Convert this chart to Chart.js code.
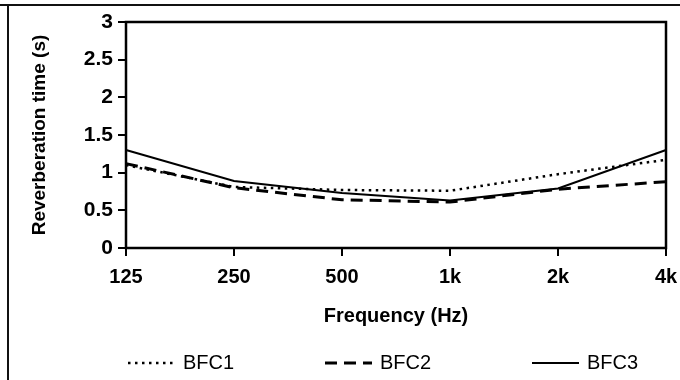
<!DOCTYPE html>
<html>
<head>
<meta charset="utf-8">
<script src="https://cdn.jsdelivr.net/npm/chart.js@4"></script>
<style>
    html, body { margin: 0; padding: 0; background: #fff; }
    #wrap { width: 680px; height: 380px; }
</style>
</head>
<body>
<div id="wrap"><canvas id="chartCanvas" width="680" height="380"></canvas></div>
<script>
// Données
const frequences = ['125', '250', '500', '1k', '2k', '4k'];
const bfc1 = [1.10, 0.81, 0.77, 0.76, 0.98, 1.17];
const bfc2 = [1.12, 0.80, 0.64, 0.61, 0.78, 0.88];
const bfc3 = [1.30, 0.89, 0.73, 0.63, 0.79, 1.30];
const yTicks = [0, 0.5, 1, 1.5, 2, 2.5, 3];

const police = '"Liberation Sans", Arial, sans-serif';

// Cadre extérieur + cadre de la zone de tracé
const cadrePlugin = {
    id: 'cadre',
    beforeDraw(chart) {
        const ctx = chart.ctx;
        ctx.save();
        ctx.fillStyle = '#fff';
        ctx.fillRect(0, 0, chart.width, chart.height);
        ctx.strokeStyle = '#111';
        ctx.lineWidth = 2;
        ctx.beginPath();
        ctx.moveTo(0, 5);
        ctx.lineTo(chart.width, 5);
        ctx.moveTo(8, 5);
        ctx.lineTo(8, chart.height);
        ctx.stroke();
        ctx.restore();
    },
    afterDatasetsDraw(chart) {
        const a = chart.chartArea;
        const ctx = chart.ctx;
        ctx.save();
        ctx.strokeStyle = '#000';
        ctx.lineWidth = 2.5;
        ctx.strokeRect(a.left, a.top, a.right - a.left, a.bottom - a.top);
        ctx.restore();
    }
};

// Légende dessinée à la main (items très espacés)
const legendePlugin = {
    id: 'legende',
    afterDraw(chart) {
        const ctx = chart.ctx;
        const debuts = [128, 325, 532];
        const y = 363;
        ctx.save();
        chart.data.datasets.forEach((ds, i) => {
            const x = debuts[i];
            ctx.strokeStyle = ds.borderColor;
            ctx.lineWidth = ds.borderWidth;
            ctx.setLineDash(ds.borderDash || []);
            ctx.beginPath();
            ctx.moveTo(x, y);
            ctx.lineTo(x + 47, y);
            ctx.stroke();
            ctx.setLineDash([]);
            ctx.fillStyle = '#000';
            ctx.font = '20px ' + police;
            ctx.textBaseline = 'middle';
            ctx.fillText(ds.label, x + 55, y);
        });
        ctx.restore();
    }
};

const ctx = document.getElementById('chartCanvas').getContext('2d');
const chart = new Chart(ctx, {
    type: 'line',
    data: {
        labels: frequences,
        datasets: [
            { label: 'BFC1', data: bfc1, borderColor: '#000', borderWidth: 2.5, borderDash: [2.5, 4.5] },
            { label: 'BFC2', data: bfc2, borderColor: '#000', borderWidth: 3, borderDash: [12, 7] },
            { label: 'BFC3', data: bfc3, borderColor: '#000', borderWidth: 2, borderDash: [] }
        ]
    },
    options: {
        responsive: false,
        animation: false,
        elements: {
            point: { radius: 0 },
            line: { tension: 0 }
        },
        layout: {
            padding: { left: 0, right: 0, top: 22, bottom: 52 }
        },
        scales: {
            x: {
                type: 'category',
                offset: false,
                afterFit(scale) {
                    scale.paddingRight = 14;
                },
                grid: { drawOnChartArea: false, color: '#000', lineWidth: 2, tickLength: 8 },
                border: { display: false },
                ticks: { color: '#000', padding: 9, maxRotation: 0, font: { family: police, size: 20, weight: 'bold' } },
                title: {
                    display: true,
                    text: 'Frequency (Hz)',
                    color: '#000',
                    padding: { top: 6, bottom: 0 },
                    font: { family: police, size: 20, weight: 'bold' }
                }
            },
            y: {
                min: 0,
                max: 3,
                afterBuildTicks(scale) {
                    scale.ticks = yTicks.map(v => ({ value: v }));
                },
                afterFit(scale) {
                    scale.width = 126;
                },
                grid: { drawOnChartArea: false, color: '#000', lineWidth: 2, tickLength: 8 },
                border: { display: false },
                ticks: {
                    color: '#000',
                    padding: 5,
                    font: { family: police, size: 21, weight: 'bold' },
                    callback: v => String(v)
                },
                title: {
                    display: true,
                    text: 'Reverberation time (s)',
                    color: '#000',
                    padding: { top: 28, bottom: 0 },
                    font: { family: police, size: 19, weight: 'bold' }
                }
            }
        },
        plugins: {
            legend: { display: false },
            tooltip: { enabled: false }
        }
    },
    plugins: [cadrePlugin, legendePlugin]
});
</script>
</body>
</html>
